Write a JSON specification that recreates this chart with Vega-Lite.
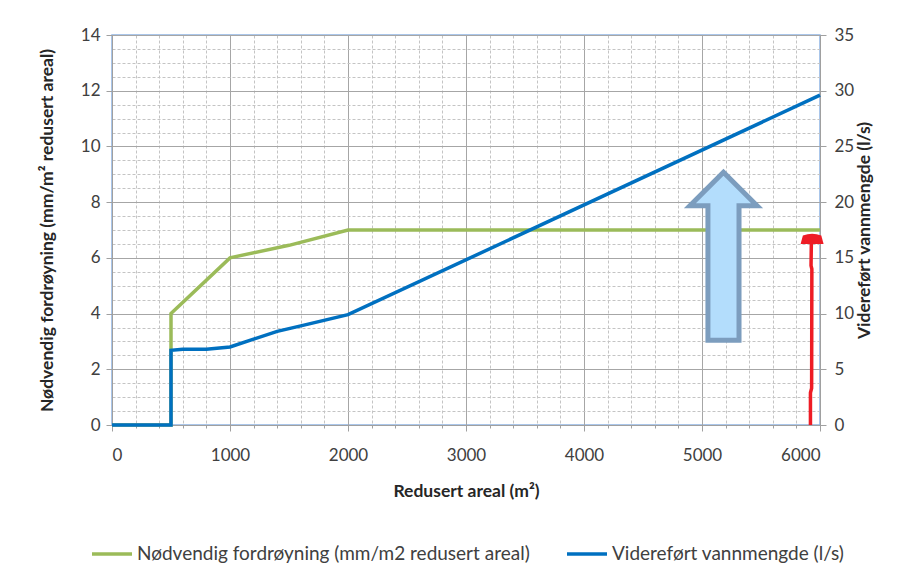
{
  "$schema": "https://vega.github.io/schema/vega-lite/v6.json",
  "width": 708,
  "height": 390,
  "autosize": {"type": "none"},
  "padding": {"left": 112, "top": 35, "right": 95, "bottom": 151},
  "background": "white",
  "config": {
    "font": "Lato",
    "view": {"stroke": "#8EB4E3", "strokeWidth": 1.5},
    "axis": {"labelColor": "#404040", "titleColor": "#262626", "labelFontSize": 17, "titleFontSize": 17.5, "titleFontWeight": "bold", "labelFont": "Lato", "titleFont": "Lato"},
    "legend": {
      "orient": "none", "legendX": -22, "legendY": 497, "direction": "horizontal",
      "symbolType": "stroke", "symbolSize": 1600, "symbolStrokeWidth": 3.5,
      "labelFontSize": 19, "labelColor": "#404040", "labelLimit": 600,
      "columnPadding": 30, "labelOffset": 3, "title": null
    }
  },
  "datasets": {
    "green": [
      {"x": 0, "y": 0}, {"x": 500, "y": 0}, {"x": 500, "y": 4}, {"x": 1000, "y": 6},
      {"x": 1500, "y": 6.45}, {"x": 2000, "y": 7}, {"x": 6000, "y": 7}
    ],
    "blue": [
      {"x": 0, "y": 0}, {"x": 500, "y": 0}, {"x": 500, "y": 6.7}, {"x": 600, "y": 6.8},
      {"x": 800, "y": 6.8}, {"x": 1000, "y": 7.0}, {"x": 1200, "y": 7.7}, {"x": 1400, "y": 8.4},
      {"x": 1600, "y": 8.9}, {"x": 2000, "y": 9.9}, {"x": 6000, "y": 29.6}
    ],
    "red": [
      {"x": 5919, "y": 0, "o": 1}, {"x": 5919, "y": 2.9, "o": 2}, {"x": 5929, "y": 3.3, "o": 3},
      {"x": 5931, "y": 14.0, "o": 4}, {"x": 5924, "y": 14.3, "o": 5}, {"x": 5927, "y": 16.5, "o": 6}
    ],
    "blob": [{"x": 5933, "y": 16.7}],
    "arrow": [{"x": 5182, "y": 6.06}]
  },
  "layer": [
    {
      "data": {"name": "green"},
      "mark": {"type": "line", "opacity": 0},
      "encoding": {
        "x": {"field": "x", "type": "quantitative", "scale": {"domain": [0, 6000]},
          "axis": {"orient": "bottom", "values": [200,400,600,800,1200,1400,1600,1800,2200,2400,2600,2800,3200,3400,3600,3800,4200,4400,4600,4800,5200,5400,5600,5800],
            "grid": true, "gridDash": [3, 2], "gridColor": "#C4C4C4", "labels": false, "ticks": true, "tickSize": 3, "tickColor": "#A0A0A0", "domain": false, "title": null}},
        "y": {"field": "y", "type": "quantitative", "scale": {"domain": [0, 14]},
          "axis": {"orient": "left", "values": [0.5,1,1.5,2.5,3,3.5,4.5,5,5.5,6.5,7,7.5,8.5,9,9.5,10.5,11,11.5,12.5,13,13.5],
            "grid": true, "gridDash": [3, 2], "gridColor": "#C4C4C4", "labels": false, "ticks": false, "domain": false, "title": null}}
      }
    },
    {
      "data": {"name": "green"},
      "mark": {"type": "line", "strokeWidth": 3.5},
      "encoding": {
        "x": {"field": "x", "type": "quantitative", "scale": {"domain": [0, 6000]},
          "axis": {"orient": "bottom", "values": [0,1000,2000,3000,4000,5000,6000], "format": "d", "grid": true, "gridColor": "#A6A6A6",
            "tickSize": 6, "tickColor": "#A0A0A0", "domainColor": "#A0A0A0", "labelPadding": 16, "titlePadding": 19,
            "title": "Redusert areal (m²)"}},
        "y": {"field": "y", "type": "quantitative", "scale": {"domain": [0, 14]},
          "axis": {"orient": "left", "values": [0,2,4,6,8,10,12,14], "grid": true, "gridColor": "#A6A6A6",
            "tickSize": 6, "tickColor": "#A0A0A0", "domainColor": "#A0A0A0", "labelPadding": 6, "titlePadding": 24,
            "title": "Nødvendig fordrøyning (mm/m² redusert areal)"}},
        "color": {"datum": "Nødvendig fordrøyning (mm/m2 redusert areal)", "type": "nominal",
          "scale": {"domain": ["Nødvendig fordrøyning (mm/m2 redusert areal)", "Videreført vannmengde (l/s)"], "range": ["#9BBB59", "#0070C0"]}}
      }
    },
    {
      "data": {"name": "blue"},
      "mark": {"type": "line", "strokeWidth": 3.5},
      "encoding": {
        "x": {"field": "x", "type": "quantitative", "scale": {"domain": [0, 6000]}, "axis": null},
        "y": {"field": "y", "type": "quantitative", "scale": {"domain": [0, 35]},
          "axis": {"orient": "right", "values": [0,5,10,15,20,25,30,35], "grid": false,
            "tickSize": 6, "tickColor": "#A0A0A0", "domainColor": "#A0A0A0", "labelPadding": 8, "titlePadding": 20, "titleAngle": 270,
            "title": "Videreført vannmengde (l/s)"}},
        "color": {"datum": "Videreført vannmengde (l/s)", "type": "nominal"}
      }
    },
    {
      "data": {"name": "arrow"},
      "mark": {"type": "point", "filled": true, "shape": "M0,-1 L0.4,-0.6 L0.185,-0.6 L0.185,1 L-0.185,1 L-0.185,-0.6 L-0.4,-0.6 Z",
        "size": 28224, "fill": "#B3DDFC", "stroke": "#7C9DBE", "strokeWidth": 5, "opacity": 1, "fillOpacity": 1},
      "encoding": {
        "x": {"field": "x", "type": "quantitative", "scale": {"domain": [0, 6000]}, "axis": null},
        "y": {"field": "y", "type": "quantitative", "scale": {"domain": [0, 14]}, "axis": null}
      }
    },
    {
      "data": {"name": "red"},
      "mark": {"type": "line", "strokeWidth": 3.5, "color": "#EE1C25"},
      "encoding": {
        "x": {"field": "x", "type": "quantitative", "scale": {"domain": [0, 6000]}, "axis": null},
        "y": {"field": "y", "type": "quantitative", "scale": {"domain": [0, 35]}, "axis": null},
        "order": {"field": "o"}
      }
    },
    {
      "data": {"name": "blob"},
      "mark": {"type": "point", "filled": true, "shape": "M-1,0.45 L-0.8,-0.3 Q0,-0.6 0.8,-0.3 L1,0.45 Z",
        "size": 529, "fill": "#EE1C25", "opacity": 1, "strokeWidth": 0},
      "encoding": {
        "x": {"field": "x", "type": "quantitative", "scale": {"domain": [0, 6000]}, "axis": null},
        "y": {"field": "y", "type": "quantitative", "scale": {"domain": [0, 35]}, "axis": null}
      }
    }
  ],
  "resolve": {"scale": {"y": "independent"}, "axis": {"x": "independent", "y": "independent"}}
}
